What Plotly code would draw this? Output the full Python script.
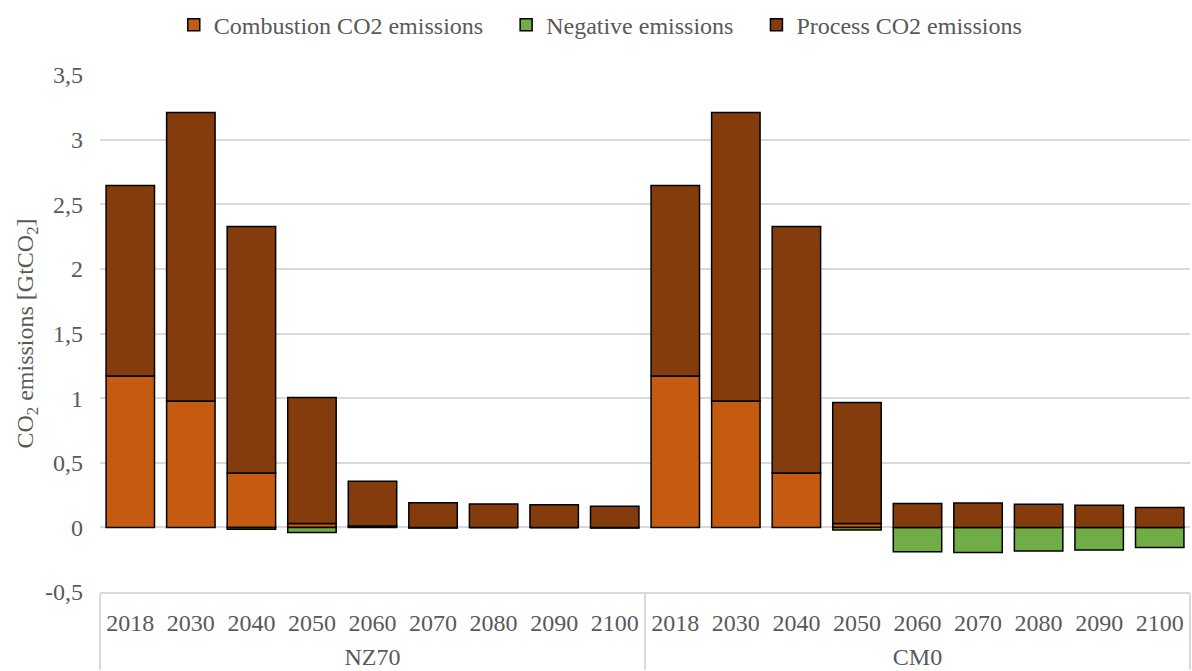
import plotly.graph_objects as go

group_names = ["NZ70", "CM0"]
years_list = ["2018", "2030", "2040", "2050", "2060", "2070", "2080", "2090", "2100"]

combustion = [1.172, 0.978, 0.42, 0.03, 0.01, 0.0, 0.0, 0.0, 0.0,
              1.172, 0.978, 0.42, 0.03, 0.0, 0.0, 0.0, 0.0, 0.0]
negative = [0.0, 0.0, -0.015, -0.04, 0.0, -0.005, 0.0, 0.0, -0.005,
            0.0, 0.0, 0.0, -0.02, -0.189, -0.194, -0.183, -0.176, -0.155]
total_positive = [2.645, 3.21, 2.327, 1.005, 0.357, 0.19, 0.181, 0.176, 0.163,
                  2.645, 3.21, 2.327, 0.966, 0.184, 0.189, 0.179, 0.171, 0.153]
process = [round(t - c, 4) for t, c in zip(total_positive, combustion)]

ytick_vals = [-0.5, 0, 0.5, 1, 1.5, 2, 2.5, 3, 3.5]
ytick_text = ["-0,5", "0", "0,5", "1", "1,5", "2", "2,5", "3", "3,5"]

# group labels pushed slightly lower via baseline shift
shifted = ['<span style="baseline-shift:-14px">%s</span>' % g for g in group_names]
scenarios = [shifted[0]] * 9 + [shifted[1]] * 9
years = years_list * 2

x = [scenarios, years]
line = dict(color="black", width=1.5)
nb = "\u00a0" * 3

fig = go.Figure()
fig.add_trace(go.Bar(x=x, y=combustion, name="Combustion CO2 emissions" + nb,
                     marker=dict(color="#C55A11", line=line)))
fig.add_trace(go.Bar(x=x, y=negative, name="Negative emissions" + nb,
                     marker=dict(color="#70AD47", line=line)))
fig.add_trace(go.Bar(x=x, y=process, name="Process CO2 emissions",
                     marker=dict(color="#843C0C", line=line)))

serif = "Liberation Serif, Times New Roman, serif"
font = dict(family=serif, size=24, color="#595959")

fig.update_layout(
    barmode="relative",
    bargap=0.2,
    width=1192, height=671,
    margin=dict(l=100, r=2, t=75, b=79),
    paper_bgcolor="white", plot_bgcolor="white",
    font=font,
    legend=dict(orientation="h", xref="container", x=0.504, xanchor="center",
                yref="container", y=0.996, yanchor="top",
                font=dict(family=serif, size=24, color="#595959"),
                traceorder="normal", itemwidth=30),
    showlegend=True,
)
fig.update_yaxes(range=[-0.5, 3.5], tickvals=ytick_vals, ticktext=ytick_text,
                 showgrid=True, gridcolor="#D9D9D9", gridwidth=1.5,
                 zeroline=True, zerolinecolor="#D9D9D9", zerolinewidth=1.5,
                 ticks="", ticklabelstandoff=16,
                 tickfont=dict(family=serif, size=24, color="#595959"),
                 title=dict(text="CO<sub>2</sub> emissions [GtCO<sub>2</sub>]",
                            font=dict(family=serif, size=24, color="#595959"), standoff=4))
fig.update_xaxes(type="multicategory", showline=True, linecolor="#D9D9D9", linewidth=1.5,
                 showdividers=True, dividercolor="#D9D9D9", dividerwidth=1.5,
                 ticks="", ticklabelstandoff=8,
                 tickfont=dict(family=serif, size=24, color="#595959"))

fig.write_html("out.html", post_script="document.body.style.margin='0';",
               config={"displayModeBar": False})
